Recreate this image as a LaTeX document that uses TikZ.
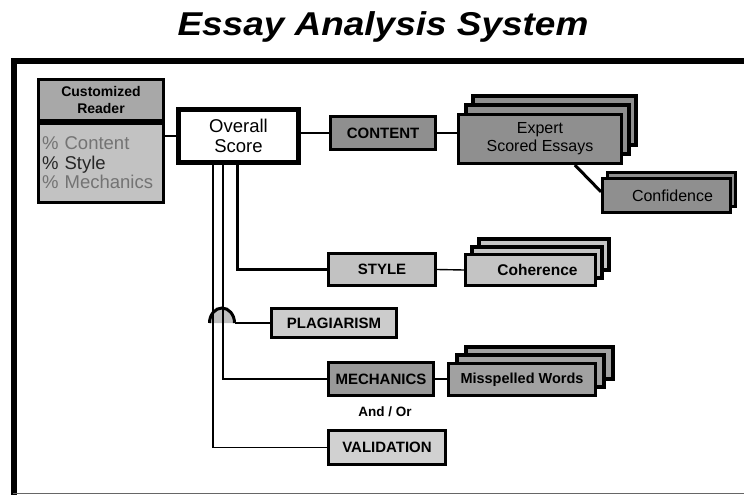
\documentclass[tikz,border=0pt]{standalone}
\usepackage{fontspec}
\setmainfont{Liberation Sans}
\usetikzlibrary{shadows,calc}
\definecolor{hdr}{gray}{0.66}
\definecolor{rbodyfill}{gray}{0.76}
\definecolor{gdark}{gray}{0.56}
\definecolor{gmech}{gray}{0.60}
\definecolor{gmiss}{gray}{0.63}
\definecolor{gstyle}{gray}{0.76}
\definecolor{gcoh}{gray}{0.77}
\definecolor{gplag}{gray}{0.80}
\definecolor{gvalid}{gray}{0.82}
\definecolor{txtgray}{gray}{0.45}
\begin{document}
\begin{tikzpicture}[x=1pt,y=-1pt,
  box/.style={draw=black,line width=3pt,inner sep=0pt,align=center,
    font=\fontsize{15}{17}\selectfont\bfseries},
  labelfont/.style={font=\fontsize{16}{18}\selectfont},
  layer/.style={fill=#1,draw=black,line width=4pt},
  conn/.style={draw=black,line width=1.4pt},
  connthick/.style={draw=black,line width=3pt}
]
\useasboundingbox (0,0) rectangle (744,495);

% title
\node[font=\fontsize{33}{35}\selectfont\bfseries\itshape,xscale=1.12] (title) at (383,27) {Essay Analysis System};

% frame
\draw[line width=6pt] (13.5,495) -- (13.5,61) -- (744,61);
\draw[line width=1.2pt,black!60] (13,493.8) -- (744,493.8);

% customized reader
\node[box,fill=hdr,minimum width=125pt,minimum height=41pt,
  font=\fontsize{14}{16.5}\selectfont\bfseries] (rhead) at (101,100) {Customized\\Reader};
\node[box,fill=rbodyfill,minimum width=125pt,minimum height=79pt,text width=118pt,align=left,
  font=\fontsize{18.5}{19.5}\selectfont] (rbody) at (101,163)
  {\textcolor{txtgray}{\% Content}\\\textcolor{black!85}{\% Style}\\\textcolor{txtgray}{\% Mechanics}};

% overall score
\node[box,line width=4.5pt,fill=white,minimum width=120pt,minimum height=53pt,
  font=\fontsize{18.5}{20}\selectfont] (overall) at (238.5,136) {Overall\\Score};

% category boxes
\node[box,fill=gdark,minimum width=105pt,minimum height=33pt] (content) at (383,133) {CONTENT};
\node[box,fill=gstyle,minimum width=107pt,minimum height=32pt] (style) at (382,269.5) {STYLE};
\node[box,fill=gplag,minimum width=125pt,minimum height=29pt] (plag) at (334,323) {PLAGIARISM};
\node[box,fill=gmech,minimum width=105pt,minimum height=33pt] (mech) at (381,379) {MECHANICS};
\node[box,fill=gvalid,minimum width=117pt,minimum height=34pt] (valid) at (387,447.5) {VALIDATION};

% stacked boxes
\node[box,fill=gdark,minimum width=163pt,minimum height=49pt,labelfont,
  copy shadow={shadow xshift=14pt,shadow yshift=19pt,layer=gdark},
  copy shadow={shadow xshift=7pt,shadow yshift=9.5pt,layer=gdark}]
  (expert) at (540,139) {Expert\\Scored Essays};
\node[box,fill=gdark,minimum width=128pt,minimum height=34pt,labelfont,
  copy shadow={shadow xshift=5pt,shadow yshift=6.5pt,layer=gdark,line width=3pt}]
  (conf) at (666.5,195.5) {\hspace*{12pt}Confidence};
\node[box,fill=gcoh,minimum width=130pt,minimum height=31pt,
  font=\fontsize{15.5}{17}\selectfont\bfseries,
  copy shadow={shadow xshift=13pt,shadow yshift=16pt,layer=gcoh},
  copy shadow={shadow xshift=6.5pt,shadow yshift=8pt,layer=gcoh}]
  (coh) at (530.5,270) {\hspace*{14pt}Coherence};
\node[box,fill=gmiss,minimum width=147pt,minimum height=32pt,
  font=\fontsize{14.5}{17}\selectfont\bfseries,
  copy shadow={shadow xshift=17pt,shadow yshift=17pt,layer=gmiss},
  copy shadow={shadow xshift=8.5pt,shadow yshift=8.5pt,layer=gmiss}]
  (miss) at (522,379.5) {Misspelled Words};

\node[font=\fontsize{13.5}{16}\selectfont\bfseries] (andor) at (385,412) {And / Or};

% connectors
\draw[conn] (rbody.east |- overall.west) -- (overall.west);
\draw[conn] (overall.east |- content.west) -- (content.west);
\draw[conn] (content.east) -- (content.east -| expert.west);
\draw[connthick] ($(expert.south west)!0.71!(expert.south east)$) -- ($(conf.north west)!0.4!(conf.south west)$);
\draw[conn] (style.east) -- (coh.west);
\draw[conn] (mech.east) -- (mech.east -| miss.west);

% branches leaving the overall score
\coordinate (va) at (213,165);
\coordinate (vb) at (223,165);
\coordinate (vc) at (237,165);
\coordinate (hopL) at (209.5,323);
\coordinate (hopR) at (234.5,323);

\fill[black!25] (hopL) arc[start angle=180,end angle=360,x radius=12.5,y radius=15] -- cycle;
\draw[conn] (va) |- (valid.west);
\draw[conn] (vb) |- (mech.west);
\draw[connthick] (vc) |- (style.west);
\draw[line width=3pt] (hopL) arc[start angle=180,end angle=360,x radius=12.5,y radius=15];
\draw[line width=2.5pt] (hopR) -- (plag.west);
\end{tikzpicture}
\end{document}
